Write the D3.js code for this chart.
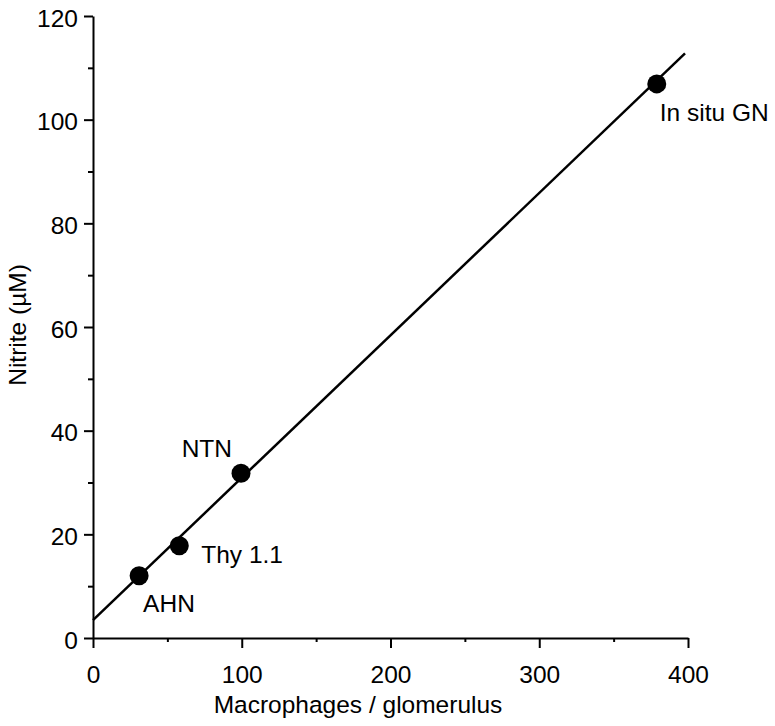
<!DOCTYPE html>
<html>
<head>
<meta charset="utf-8">
<script src="https://cdn.jsdelivr.net/npm/d3@7"></script>
<style>
  html, body { margin: 0; padding: 0; background: #fff; }
  svg { display: block; font-family: "Liberation Sans", Arial, Helvetica, sans-serif; }
</style>
</head>
<body>
<svg id="chart" width="775" height="726"></svg>
<script>
// Glomerulonephritis models: macrophage count vs. nitrite production
const models = ["AHN", "Thy 1.1", "NTN", "In situ GN"];
const macrophages = [31, 58, 99.5, 379];
const nitrite = [12.0, 17.8, 31.8, 106.9];

// Least-squares fit line
const fitIntercept = 3.45;
const fitSlope = 0.2747;
const fitRange = [0, 398];

const xTicks = [0, 100, 200, 300, 400];
const xMinorTicks = [50, 150, 250, 350];
const yTicks = [0, 20, 40, 60, 80, 100, 120];
const yMinorTicks = [10, 30, 50, 70, 90, 110];

const xTitle = "Macrophages / glomerulus";
const yTitle = "Nitrite (\u00B5M)";

// label placement relative to each point (px)
const labelOffsets = [
  { dx: 4, dy: 36, anchor: "start" },
  { dx: 22, dy: 17, anchor: "start" },
  { dx: -9, dy: -16, anchor: "end" },
  { dx: 3, dy: 37, anchor: "start" }
];

const svg = d3.select("#chart");
const fontSize = 24.5;

const x = d3.scaleLinear().domain([0, 400]).range([93, 688]);
const y = d3.scaleLinear().domain([0, 120]).range([638, 16]);

// minor ticks
svg.append("g")
  .attr("transform", `translate(0,${y(0)})`)
  .call(d3.axisBottom(x).tickValues(xMinorTicks).tickSize(4).tickSizeOuter(0).tickFormat(""))
  .call(g => g.select(".domain").remove())
  .call(g => g.selectAll("line").attr("stroke-width", 2));

svg.append("g")
  .attr("transform", `translate(${x(0)},0)`)
  .call(d3.axisLeft(y).tickValues(yMinorTicks).tickSize(5).tickSizeOuter(0).tickFormat(""))
  .call(g => g.select(".domain").remove())
  .call(g => g.selectAll("line").attr("stroke-width", 2));

// x axis
const xAxis = svg.append("g")
  .attr("transform", `translate(0,${y(0)})`)
  .call(d3.axisBottom(x).tickValues(xTicks).tickSize(10).tickSizeOuter(0).tickFormat(d3.format("d")));
xAxis.select(".domain").attr("stroke-width", 2);
xAxis.selectAll("line").attr("stroke-width", 2);
xAxis.selectAll("text")
  .attr("y", 45).attr("dy", 0)
  .attr("font-size", fontSize)
  .attr("font-family", "Liberation Sans, Arial, sans-serif")
  .attr("fill", "#000");

// y axis
const yAxis = svg.append("g")
  .attr("transform", `translate(${x(0)},0)`)
  .call(d3.axisLeft(y).tickValues(yTicks).tickSize(9).tickPadding(6).tickSizeOuter(0).tickFormat(d3.format("d")));
yAxis.select(".domain").attr("stroke-width", 2);
yAxis.selectAll("line").attr("stroke-width", 2);
yAxis.selectAll("text")
  .attr("dy", "0.42em")
  .attr("font-size", fontSize)
  .attr("font-family", "Liberation Sans, Arial, sans-serif")
  .attr("fill", "#000");

// axis titles
svg.append("text")
  .attr("x", 358).attr("y", 713)
  .attr("text-anchor", "middle")
  .attr("font-size", fontSize)
  .attr("fill", "#000")
  .text(xTitle);

svg.append("text")
  .attr("transform", "translate(26,325) rotate(-90)")
  .attr("text-anchor", "middle")
  .attr("font-size", fontSize)
  .attr("fill", "#000")
  .text(yTitle);

// fit line
const fitLine = d3.line().x(d => x(d)).y(d => y(fitIntercept + fitSlope * d));
svg.append("path")
  .datum(fitRange)
  .attr("d", fitLine)
  .attr("fill", "none")
  .attr("stroke", "#000")
  .attr("stroke-width", 2.5);

// points
const pts = models.map((m, i) => ({ name: m, mx: macrophages[i], no: nitrite[i], off: labelOffsets[i] }));

svg.append("g").selectAll("circle")
  .data(pts)
  .join("circle")
  .attr("cx", d => x(d.mx))
  .attr("cy", d => y(d.no))
  .attr("r", 9.5)
  .attr("fill", "#000");

svg.append("g").selectAll("text")
  .data(pts)
  .join("text")
  .attr("x", d => x(d.mx) + d.off.dx)
  .attr("y", d => y(d.no) + d.off.dy)
  .attr("text-anchor", d => d.off.anchor)
  .attr("font-size", fontSize)
  .attr("fill", "#000")
  .text(d => d.name);
</script>
</body>
</html>
